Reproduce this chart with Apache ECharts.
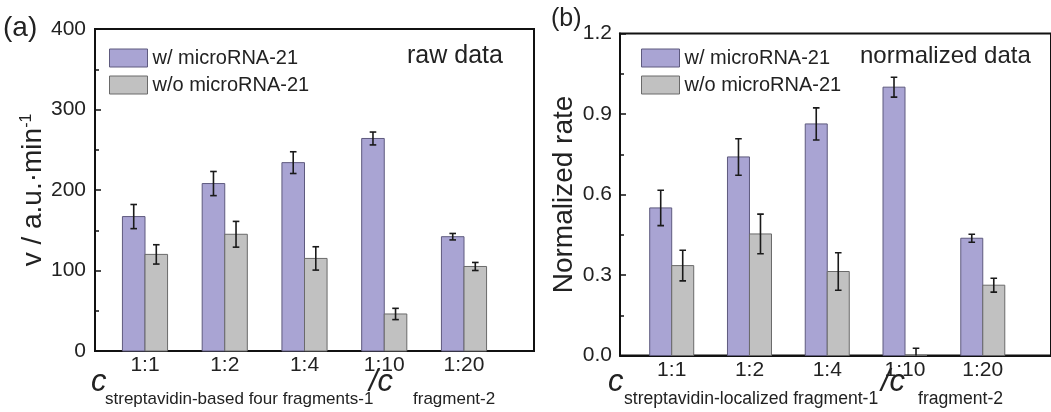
<!DOCTYPE html>
<html>
<head>
<meta charset="utf-8">
<script src="https://cdn.jsdelivr.net/npm/echarts@6/dist/echarts.min.js"></script>
<style>
html,body{margin:0;padding:0;background:#fff;}
#chart{width:1051px;height:412px;}
</style>
</head>
<body>
<div id="chart"></div>
<script>
// ---- data ----
const categories = ['1:1', '1:2', '1:4', '1:10', '1:20'];
const seriesNames = ['w/ microRNA-21', 'w/o microRNA-21'];

const rawWith = [167, 208, 234, 264, 142];
const rawWithErr = [15, 15, 13.5, 8, 4];
const rawWithout = [120, 145, 115, 46, 105];
const rawWithoutErr = [12, 16, 14.5, 7, 5];

const normWith = [0.55, 0.74, 0.863, 1.0, 0.437];
const normWithErr = [0.066, 0.068, 0.06, 0.037, 0.015];
const normWithout = [0.335, 0.453, 0.313, 0.0, 0.262];
const normWithoutErr = [0.057, 0.074, 0.07, 0.027, 0.026];

const yTicksA = [0, 100, 200, 300, 400];
const yTicksB = [0.0, 0.3, 0.6, 0.9, 1.2];

// ---- style ----
const FONT = "'Liberation Sans', Arial, sans-serif";
const TXT = '#222';
const PURPLE = '#a9a4d3';
const PURPLE_BORDER = '#5e5a7e';
const GRAY = '#c1c1c1';
const GRAY_BORDER = '#6a6a6a';
const BAR_UNIT = 0.283; // bar width in x-axis units

function pts(vals, errs) {
  return categories.map((c, i) => [i + 1, vals[i], errs[i]]);
}

function barRender(side, fill, stroke) {
  return function (params, api) {
    const x = api.value(0), y = api.value(1);
    const w = api.size([BAR_UNIT, 0])[0];
    const base = api.coord([x, 0]);
    const top = api.coord([x, y]);
    const x0 = side < 0 ? base[0] - w : base[0];
    return {
      type: 'rect',
      shape: { x: x0, y: top[1], width: w, height: base[1] - top[1] },
      style: { fill: fill, stroke: stroke, lineWidth: 1 }
    };
  };
}

function errRender(side) {
  return function (params, api) {
    const x = api.value(0), y = api.value(1), e = api.value(2);
    const w = api.size([BAR_UNIT, 0])[0];
    const base = api.coord([x, y]);
    const cx = base[0] + side * w / 2;
    const hi = api.coord([x, y + e])[1];
    const lo = api.coord([x, y - e])[1];
    const cap = 3.3;
    const st = { stroke: '#1a1a1a', lineWidth: 1.6 };
    return {
      type: 'group',
      children: [
        { type: 'line', shape: { x1: cx, y1: hi, x2: cx, y2: lo }, style: st },
        { type: 'line', shape: { x1: cx - cap, y1: hi, x2: cx + cap, y2: hi }, style: st },
        { type: 'line', shape: { x1: cx - cap, y1: lo, x2: cx + cap, y2: lo }, style: st }
      ]
    };
  };
}

function xAxisCfg(gi, min, max) {
  return {
    type: 'value', gridIndex: gi, min: min, max: max,
    axisLine: { show: true, onZero: false, lineStyle: { color: '#111', width: 2 } },
    axisTick: { show: false },
    splitLine: { show: false },
    axisLabel: {
      customValues: [1, 2, 3, 4, 5],
      formatter: v => categories[Math.round(v) - 1] || '',
      fontSize: 21, color: TXT, fontFamily: FONT, margin: 4
    }
  };
}

function yAxisCfg(gi, ticks, fmt, name, nameGap, rich, labelMargin) {
  return {
    type: 'value', gridIndex: gi,
    min: ticks[0], max: ticks[ticks.length - 1],
    interval: ticks[1] - ticks[0],
    axisLine: { show: true, onZero: false, lineStyle: { color: '#111', width: 2 } },
    axisTick: { show: true, inside: true, length: 6, lineStyle: { color: '#111', width: 1.5 } },
    minorTick: { show: true, splitNumber: 2, length: 4, lineStyle: { color: '#111', width: 1.5 } },
    splitLine: { show: false },
    axisLabel: { formatter: fmt, fontSize: 21, color: TXT, fontFamily: FONT, margin: labelMargin },
    name: name, nameLocation: 'middle', nameGap: nameGap,
    nameTextStyle: { fontSize: 28, color: TXT, fontFamily: FONT, rich: rich }
  };
}

const legendCommon = {
  orient: 'vertical', icon: 'rect', itemWidth: 38, itemHeight: 18, itemGap: 7,
  textStyle: { fontSize: 20, color: TXT, fontFamily: FONT },
  selectedMode: false
};
function legendData() {
  return [
    { name: seriesNames[0], icon: 'rect', itemStyle: { color: PURPLE, borderColor: PURPLE_BORDER, borderWidth: 1 } },
    { name: seriesNames[1], icon: 'rect', itemStyle: { color: GRAY, borderColor: GRAY_BORDER, borderWidth: 1 } }
  ];
}

// x-axis title pieces: big italic "c" with subscripts
function txt(x, y, text, size, italic) {
  return {
    type: 'text', x: x, y: y,
    style: { text: text, fontSize: size, fontStyle: italic ? 'italic' : 'normal', fontFamily: FONT,
             fill: TXT, verticalAlign: 'middle', align: 'left' }
  };
}
const C_Y = 382, SUB_Y = 399;

const option = {
  backgroundColor: '#fff',
  animation: false,
  grid: [
    { left: 95, top: 29, width: 439, height: 322, show: true, borderColor: '#111', borderWidth: 2, backgroundColor: 'transparent' },
    { left: 620, top: 33.5, width: 442, height: 322, show: true, borderColor: '#111', borderWidth: 2, backgroundColor: 'transparent' }
  ],
  xAxis: [
    xAxisCfg(0, 0.373, 0.373 + 439 / 79.75),
    xAxisCfg(1, 0.335, 0.335 + 442 / 79.75)
  ],
  yAxis: [
    yAxisCfg(0, yTicksA, v => String(v), '{n|v / a.u.·min}{sup|-1}', 46, {
      n: { fontSize: 28, fontFamily: FONT, color: TXT, lineHeight: 28, verticalAlign: 'bottom' },
      sup: { fontSize: 16, fontFamily: FONT, color: TXT, lineHeight: 16, verticalAlign: 'top' }
    }, 9),
    yAxisCfg(1, yTicksB, v => v.toFixed(1), 'Normalized rate', 42, undefined, 8)
  ],
  legend: [
    Object.assign({ left: 104, top: 43, data: legendData() }, legendCommon),
    Object.assign({ left: 636, top: 43, data: legendData() }, legendCommon)
  ],
  graphic: [
    { type: 'text', left: 3, top: 14, style: { text: '(a)', fontSize: 28, fill: TXT, fontFamily: FONT } },
    { type: 'text', left: 551, top: 7, style: { text: '(b)', fontSize: 25, fill: TXT, fontFamily: FONT } },
    { type: 'text', left: 407, top: 44, style: { text: 'raw data', fontSize: 25, fill: TXT, fontFamily: FONT } },
    { type: 'text', left: 860, top: 44, style: { text: 'normalized data', fontSize: 24, fill: TXT, fontFamily: FONT } },

    txt(91, C_Y, 'c', 31, true),
    txt(105, SUB_Y, 'streptavidin-based four fragments-1', 17, false),
    txt(369, C_Y, '/c', 31, true),
    txt(413, SUB_Y, 'fragment-2', 17, false),

    txt(608, C_Y, 'c', 31, true),
    txt(624, SUB_Y, 'streptavidin-localized fragment-1', 17.6, false),
    txt(881, C_Y, '/c', 31, true),
    txt(918, SUB_Y, 'fragment-2', 17.6, false)
  ],
  series: [
    { type: 'custom', name: seriesNames[0], xAxisIndex: 0, yAxisIndex: 0,
      itemStyle: { color: PURPLE, borderColor: PURPLE_BORDER },
      renderItem: barRender(-1, PURPLE, PURPLE_BORDER), data: pts(rawWith, rawWithErr) },
    { type: 'custom', name: seriesNames[1], xAxisIndex: 0, yAxisIndex: 0,
      itemStyle: { color: GRAY, borderColor: GRAY_BORDER },
      renderItem: barRender(1, GRAY, GRAY_BORDER), data: pts(rawWithout, rawWithoutErr) },
    { type: 'custom', name: 'errA1', xAxisIndex: 0, yAxisIndex: 0, clip: true,
      renderItem: errRender(-1), data: pts(rawWith, rawWithErr) },
    { type: 'custom', name: 'errA2', xAxisIndex: 0, yAxisIndex: 0, clip: true,
      renderItem: errRender(1), data: pts(rawWithout, rawWithoutErr) },

    { type: 'custom', name: seriesNames[0], xAxisIndex: 1, yAxisIndex: 1,
      itemStyle: { color: PURPLE, borderColor: PURPLE_BORDER },
      renderItem: barRender(-1, PURPLE, PURPLE_BORDER), data: pts(normWith, normWithErr) },
    { type: 'custom', name: seriesNames[1], xAxisIndex: 1, yAxisIndex: 1,
      itemStyle: { color: GRAY, borderColor: GRAY_BORDER },
      renderItem: barRender(1, GRAY, GRAY_BORDER), data: pts(normWithout, normWithoutErr) },
    { type: 'custom', name: 'errB1', xAxisIndex: 1, yAxisIndex: 1, clip: true,
      renderItem: errRender(-1), data: pts(normWith, normWithErr) },
    { type: 'custom', name: 'errB2', xAxisIndex: 1, yAxisIndex: 1, clip: true,
      renderItem: errRender(1), data: pts(normWithout, normWithoutErr) }
  ]
};

const chart = echarts.init(document.getElementById('chart'), null, { renderer: 'canvas' });
chart.setOption(option);
</script>
</body>
</html>
